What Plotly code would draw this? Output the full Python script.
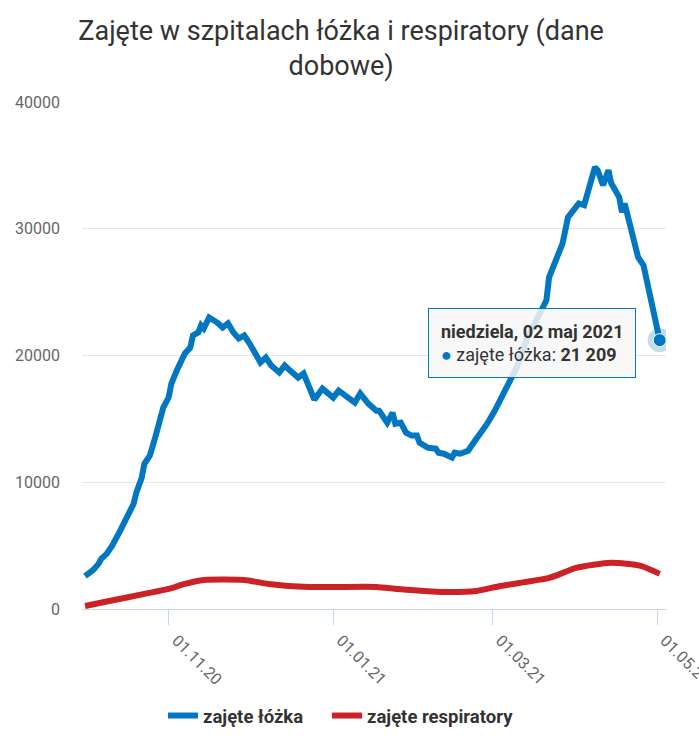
import plotly.graph_objects as go

# --- data ---
beds_dates = [
    "2020-10-01", "2020-10-04", "2020-10-06", "2020-10-07", "2020-10-09", "2020-10-11",
    "2020-10-14", "2020-10-17", "2020-10-19", "2020-10-20", "2020-10-22", "2020-10-23",
    "2020-10-25", "2020-10-27", "2020-10-29", "2020-10-30", "2020-11-01", "2020-11-02",
    "2020-11-04", "2020-11-06", "2020-11-07", "2020-11-09", "2020-11-10", "2020-11-12",
    "2020-11-13", "2020-11-14", "2020-11-16", "2020-11-19", "2020-11-21", "2020-11-23",
    "2020-11-25", "2020-11-27", "2020-11-29", "2020-12-01", "2020-12-03", "2020-12-05",
    "2020-12-07", "2020-12-09", "2020-12-12", "2020-12-14", "2020-12-16", "2020-12-19",
    "2020-12-21", "2020-12-23", "2020-12-25", "2020-12-28", "2021-01-01", "2021-01-03",
    "2021-01-06", "2021-01-09", "2021-01-11", "2021-01-14", "2021-01-17", "2021-01-18",
    "2021-01-21", "2021-01-23", "2021-01-24", "2021-01-26", "2021-01-28", "2021-01-30",
    "2021-02-01", "2021-02-02", "2021-02-05", "2021-02-08", "2021-02-09", "2021-02-11",
    "2021-02-14", "2021-02-15", "2021-02-17", "2021-02-20", "2021-02-22", "2021-02-25",
    "2021-02-27", "2021-03-02", "2021-03-04", "2021-03-07", "2021-03-10", "2021-03-14",
    "2021-03-21", "2021-03-22", "2021-03-24", "2021-03-27", "2021-03-29", "2021-04-01",
    "2021-04-02", "2021-04-04", "2021-04-06", "2021-04-08", "2021-04-09", "2021-04-11",
    "2021-04-13", "2021-04-14", "2021-04-17", "2021-04-18", "2021-04-19", "2021-04-22",
    "2021-04-24", "2021-04-26", "2021-04-27", "2021-05-02",
]
beds_values = [
    2600, 3080, 3560, 3950, 4350, 4980,
    6170, 7510, 8300, 9170, 10360, 11460,
    12090, 13520, 14860, 15890, 16700, 17790,
    18810, 19600, 20160, 20630, 21580, 21820,
    22370, 22130, 23000, 22600, 22210, 22530,
    21820, 21340, 21580, 20950, 20160, 19450,
    19840, 19210, 18660, 19210, 18810, 18260,
    18580, 17470, 16520, 17390, 16680, 17230,
    16680, 16280, 17000, 16210, 15650, 15650,
    14700, 15490, 14620, 14700, 13910, 13680,
    13680, 13120, 12730, 12650, 12330, 12250,
    11940, 12330, 12250, 12490, 13120, 13900,
    14600, 15700, 16500, 17700, 19050, 21420,
    24350, 26170, 27270, 28850, 30900, 31700,
    32000, 31860, 33600, 34860, 34620, 33440,
    34620, 33600, 32490, 31300, 32000, 29640,
    27750, 27110, 26170, 21209,
]

resp_dates = [
    "2020-10-01", "2020-10-10", "2020-10-23", "2020-11-01", "2020-11-07", "2020-11-14",
    "2020-11-29", "2020-12-08", "2020-12-23", "2021-01-17", "2021-01-25", "2021-02-11",
    "2021-02-23", "2021-03-04", "2021-03-22", "2021-04-01", "2021-04-14", "2021-04-25",
    "2021-05-02",
]
resp_values = [
    240, 630, 1190, 1580, 1980, 2290,
    2290, 1980, 1740, 1740, 1580, 1340,
    1420, 1820, 2450, 3240, 3640, 3400,
    2770,
]

series_names = ["zajęte łóżka", "zajęte respiratory"]
title_text = "Zajęte w szpitalach łóżka i respiratory (dane<br>dobowe)"
tooltip_date = "niedziela, 02 maj 2021"
tooltip_value = "21 209"

BLUE = "#0077c0"
RED = "#cc2127"

fig = go.Figure()
fig.add_trace(go.Scatter(x=beds_dates, y=beds_values, mode="lines", name=series_names[0],
                         line=dict(color=BLUE, width=6), legend="legend"))
fig.add_trace(go.Scatter(x=resp_dates, y=resp_values, mode="lines", name=series_names[1],
                         line=dict(color=RED, width=6, shape="spline", smoothing=0.6),
                         legend="legend2"))
# hovered point with halo
fig.add_trace(go.Scatter(x=[beds_dates[-1]], y=[beds_values[-1]], mode="markers", showlegend=False,
                         marker=dict(size=24, color="rgba(0,119,192,0.25)"), hoverinfo="skip"))
fig.add_trace(go.Scatter(x=[beds_dates[-1]], y=[beds_values[-1]], mode="markers", showlegend=False,
                         marker=dict(size=13, color=BLUE, line=dict(color="white", width=1)),
                         hoverinfo="skip"))

fig.add_annotation(
    x=beds_dates[-1], y=beds_values[-1], xref="x", yref="y",
    xanchor="right", yanchor="middle", xshift=-24, yshift=-3,
    showarrow=False, align="left",
    text=f"<b>{tooltip_date}</b><br><span style='color:{BLUE}'>●</span> zajęte łóżka: <b>{tooltip_value}</b>",
    font=dict(family="Roboto", size=18, color="#333333"),
    bgcolor="rgba(247,247,247,0.85)", bordercolor=BLUE, borderwidth=1, borderpad=12,
)

legend_font = dict(family="Roboto", size=18.5, color="#333333", weight="bold")
fig.update_layout(
    width=699, height=739,
    margin=dict(l=82, r=33, t=102, b=130, autoexpand=False),
    paper_bgcolor="white", plot_bgcolor="white",
    font=dict(family="Roboto", color="#666666", size=15),
    title=dict(text=title_text, x=0.488, xref="container", xanchor="center",
               y=1 - 40 / 739, yref="container", yanchor="top",
               font=dict(family="Roboto", size=27, color="#333333")),
    showlegend=True,
    legend=dict(orientation="h", x=163 / 699, xanchor="left", xref="container",
                y=1 - 716 / 739, yref="container", yanchor="middle",
                font=legend_font, itemwidth=30, bgcolor="rgba(0,0,0,0)"),
    legend2=dict(orientation="h", x=327 / 699, xanchor="left", xref="container",
                 y=1 - 716 / 739, yref="container", yanchor="middle",
                 font=legend_font, itemwidth=30, bgcolor="rgba(0,0,0,0)"),
    hovermode=False,
)
fig.update_xaxes(
    range=["2020-09-29 21:00", "2021-05-04 08:00"],
    tick0="2020-11-01", dtick="M2", tickformat="%d.%m.%y", tickangle=45,
    ticks="outside", ticklen=15, tickcolor="#ccd6eb", tickwidth=1,
    showline=True, linecolor="#ccd6eb", linewidth=1,
    showgrid=False, zeroline=False, ticklabeloverflow="allow",
    ticklabelshift=8, automargin=False,
    tickfont=dict(family="Roboto", size=16, color="#666666"),
)
fig.update_yaxes(
    range=[0, 40000], tickvals=[0, 10000, 20000, 30000, 40000],
    ticktext=["0", "10000", "20000", "30000", "40000"],
    showgrid=True, gridcolor="#e6e6e6", gridwidth=1, zeroline=False,
    ticks="", ticklabelstandoff=21, automargin=False,
    tickfont=dict(family="Roboto", size=16, color="#666666"),
)

fig.write_html("out.html")
